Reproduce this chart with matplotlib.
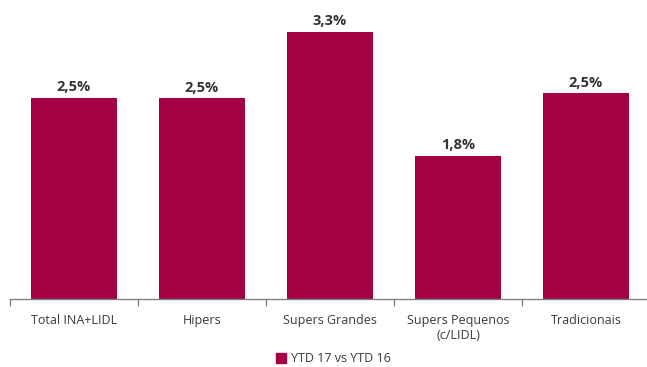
import matplotlib
matplotlib.use("Agg")
import matplotlib.pyplot as plt
from matplotlib.ticker import FixedLocator
from matplotlib.patches import Patch

categories = ["Total INA+LIDL", "Hipers", "Supers Grandes", "Supers Pequenos\n(c/LIDL)", "Tradicionais"]
values = [2.49, 2.48, 3.30, 1.77, 2.54]
labels = ["2,5%", "2,5%", "3,3%", "1,8%", "2,5%"]
series_name = "YTD 17 vs YTD 16"
color = "#A50044"

plt.rcParams['font.family'] = ['Open Sans', 'DejaVu Sans']

W, H = 647, 367
fig = plt.figure(figsize=(W/100, H/100), dpi=100)
ax = fig.add_axes([10/W, 1 - 299/H, 640/W, 299/H])

x = list(range(len(categories)))
ax.bar(x, values, width=0.67, color=color, zorder=2)
for xi, v, lab in zip(x, values, labels):
    ax.annotate(lab, (xi, v), xytext=(0, 2.5), textcoords="offset points",
                ha="center", va="bottom", fontsize=10.5, fontweight="bold", color="#333333")

ax.set_xlim(-0.5, len(categories) - 0.5)
ax.set_ylim(0, 3.695)
for s in ["top", "right", "left"]:
    ax.spines[s].set_visible(False)
ax.spines["bottom"].set_color("#808080")
ax.spines["bottom"].set_linewidth(1.0)
ax.set_yticks([])
ax.set_xticks(x)
ax.set_xticklabels(categories, fontsize=9, color="#3a3a3a")
ax.tick_params(axis="x", which="major", length=0, pad=11)
ax.xaxis.set_minor_locator(FixedLocator([i - 0.5 for i in range(len(categories) + 1)]))
ax.tick_params(axis="x", which="minor", length=5, width=1.0, color="#808080", direction="out")

fig.legend(handles=[Patch(color=color, label=series_name)], loc="center",
           bbox_to_anchor=(333/W, 1 - 359/H), frameon=False, fontsize=9,
           handlelength=0.8, handleheight=0.8, handletextpad=0.4,
           labelcolor="#3a3a3a")

fig.savefig("out.png", dpi=100)
